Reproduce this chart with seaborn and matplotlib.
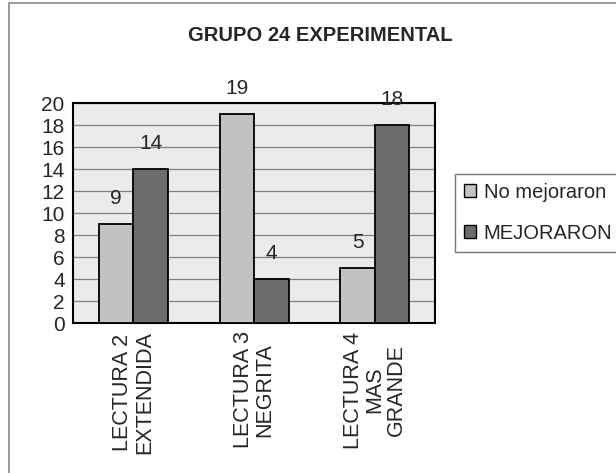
import pandas as pd
import matplotlib.pyplot as plt
import matplotlib.patches as mpatches
import seaborn as sns

# datos del grafico
categorias = ["LECTURA 2\nEXTENDIDA", "LECTURA 3\nNEGRITA", "LECTURA 4\nMAS\nGRANDE"]
no_mejoraron = [9, 19, 5]
mejoraron = [14, 4, 18]
series = ["No mejoraron", "MEJORARON"]
yticks = list(range(0, 21, 2))

df = pd.DataFrame({
    "categoria": categorias * 2,
    "valor": no_mejoraron + mejoraron,
    "serie": [series[0]] * 3 + [series[1]] * 3,
})

sns.set_style("white")
plt.rcParams["font.family"] = ["Liberation Sans", "DejaVu Sans"]

fig = plt.figure(figsize=(6.16, 4.73), dpi=100)
ax = fig.add_axes([0.1185, 0.317, 0.588, 0.465])

colores = {series[0]: "#c2c2c2", series[1]: "#6c6c6c"}
sns.barplot(data=df, x="categoria", y="valor", hue="serie", palette=colores,
            width=0.57, gap=0, edgecolor="black", linewidth=1.3, ax=ax,
            legend=False, zorder=3)
for p in ax.patches:
    p.set_zorder(3)

ax.set_facecolor("#ebebeb")
ax.set_ylim(0, 20)
ax.set_xlim(-0.5, 2.5)
ax.set_yticks(yticks)
ax.yaxis.grid(True, color="#808080", linewidth=0.9, zorder=0)
ax.set_axisbelow(True)
for s in ax.spines.values():
    s.set_color("black")
    s.set_linewidth(1.5)

ax.set_xlabel("")
ax.set_ylabel("")
ax.tick_params(axis="y", labelsize=15, length=0, pad=6)
ax.set_xticks([0, 1, 2])
ax.set_xticklabels(categorias, rotation=90, fontsize=15.5, va="top", ha="center",
                   multialignment="center", linespacing=1.05)
ax.tick_params(axis="x", length=0, pad=6)
ax.set_xticks([-0.5, 0.5, 1.5, 2.5], minor=True)
ax.tick_params(axis="x", which="minor", length=5, direction="out", color="#555555")

# etiquetas de valores
for p in ax.patches:
    h = p.get_height()
    ax.text(p.get_x() + p.get_width() / 2, h + 2.3, f"{int(h)}",
            ha="center", va="center", fontsize=15, clip_on=False)

fig.suptitle("GRUPO 24 EXPERIMENTAL", x=0.52, y=0.945, fontsize=14.5, fontweight="bold")

handles = [mpatches.Patch(facecolor=colores[s], edgecolor="black", label=s)
           for s in series]
leg = fig.legend(handles=handles, loc="center left", bbox_to_anchor=(0.738, 0.55),
                 fontsize=14.5, frameon=True, fancybox=False, handlelength=0.6,
                 handleheight=0.6, handletextpad=0.4, borderpad=0.45, labelspacing=1.1,
                 borderaxespad=0)
leg.get_frame().set_edgecolor("#555555")
leg.get_frame().set_linewidth(1.0)

# marco exterior
fig.patches.append(mpatches.Rectangle((0.014, -0.01), 1.0, 1.004, transform=fig.transFigure,
                                      fill=False, edgecolor="#888888", linewidth=1.2))

fig.savefig("out.png", dpi=100)
